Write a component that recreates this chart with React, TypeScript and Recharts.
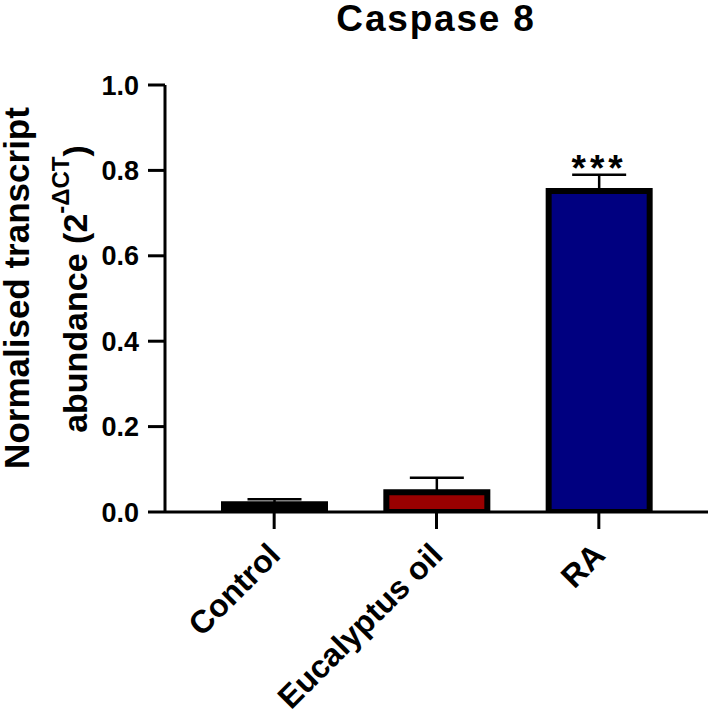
import React from "react";
import {
  BarChart,
  Bar,
  XAxis,
  YAxis,
  Cell,
  ErrorBar,
  LabelList,
} from "recharts";

const categories = ["Control", "Eucalyptus oil", "RA"];
const means = [0.018, 0.046, 0.752];
const sem = [0.012, 0.034, 0.038];
const significance = ["", "", "***"];
const yTicks = [0, 0.2, 0.4, 0.6, 0.8, 1.0];

const barColors = ["#000000", "#990000", "#000080"];
const FONT = "'Liberation Sans', Arial, Helvetica, sans-serif";

const data = categories.map((name, i) => ({
  name,
  mean: means[i],
  err: [0, sem[i]],
  sig: significance[i],
}));

const XTick = ({ x, y, payload }: any) => (
  <text
    x={x + 8}
    y={y + 26}
    transform={`rotate(-45, ${x + 8}, ${y + 26})`}
    textAnchor="end"
    fontFamily={FONT}
    fontWeight="bold"
    fontSize={32}
    fill="#000"
  >
    {payload.value}
  </text>
);

const YLabel = () => (
  <g fontFamily={FONT} fontWeight="bold" fill="#000">
    <text
      x={0}
      y={0}
      transform="translate(29, 288) rotate(-90)"
      textAnchor="middle"
      fontSize={35}
    >
      Normalised transcript
    </text>
    <text
      x={0}
      y={0}
      transform="translate(87, 289) rotate(-90)"
      textAnchor="middle"
      fontSize={34}
    >
      abundance (2
      <tspan fontSize={24} dy={-18}>
        -ΔCT
      </tspan>
      <tspan dy={18}>)</tspan>
    </text>
  </g>
);

export default function App() {
  return (
    <div
      style={{
        position: "absolute",
        left: 0,
        top: 0,
        width: 711,
        height: 717,
        background: "#fff",
      }}
    >
      <BarChart
        width={711}
        height={717}
        data={data}
        margin={{ top: 85, right: 3, bottom: 0, left: 0 }}
        barSize={101}
      >
        <text
          x={436}
          y={31}
          textAnchor="middle"
          fontFamily={FONT}
          fontWeight="bold"
          fontSize={37}
          letterSpacing={1.8}
          fill="#000"
        >
          Caspase 8
        </text>
        <XAxis
          dataKey="name"
          height={205}
          padding={{ left: 28, right: 28 }}
          axisLine={{ stroke: "#000", strokeWidth: 3 }}
          tickLine={{ stroke: "#000", strokeWidth: 3 }}
          tickSize={17}
          tick={<XTick />}
          interval={0}
        />
        <YAxis
          width={165}
          domain={[0, 1]}
          ticks={yTicks}
          allowDataOverflow
          tickFormatter={(v: number) => v.toFixed(1)}
          axisLine={{ stroke: "#000", strokeWidth: 3 }}
          tickLine={{ stroke: "#000", strokeWidth: 3 }}
          tickSize={17}
          tickMargin={9}
          tick={{
            fill: "#000",
            fontSize: 27,
            fontWeight: "bold",
            fontFamily: FONT,
          }}
          label={{ content: () => <YLabel /> }}
        />
        <Bar
          dataKey="mean"
          stroke="#000"
          strokeWidth={6}
          isAnimationActive={false}
        >
          {data.map((d, i) => (
            <Cell key={d.name} fill={barColors[i]} />
          ))}
          <ErrorBar
            dataKey="err"
            direction="y"
            width={27}
            stroke="#000"
            strokeWidth={2.5}
            isAnimationActive={false}
          />
          <LabelList
            dataKey="sig"
            position="top"
            offset={10}
            fill="#000"
            fontSize={37}
            letterSpacing={4}
            fontWeight="bold"
            fontFamily={FONT}
          />
        </Bar>
      </BarChart>
    </div>
  );
}
